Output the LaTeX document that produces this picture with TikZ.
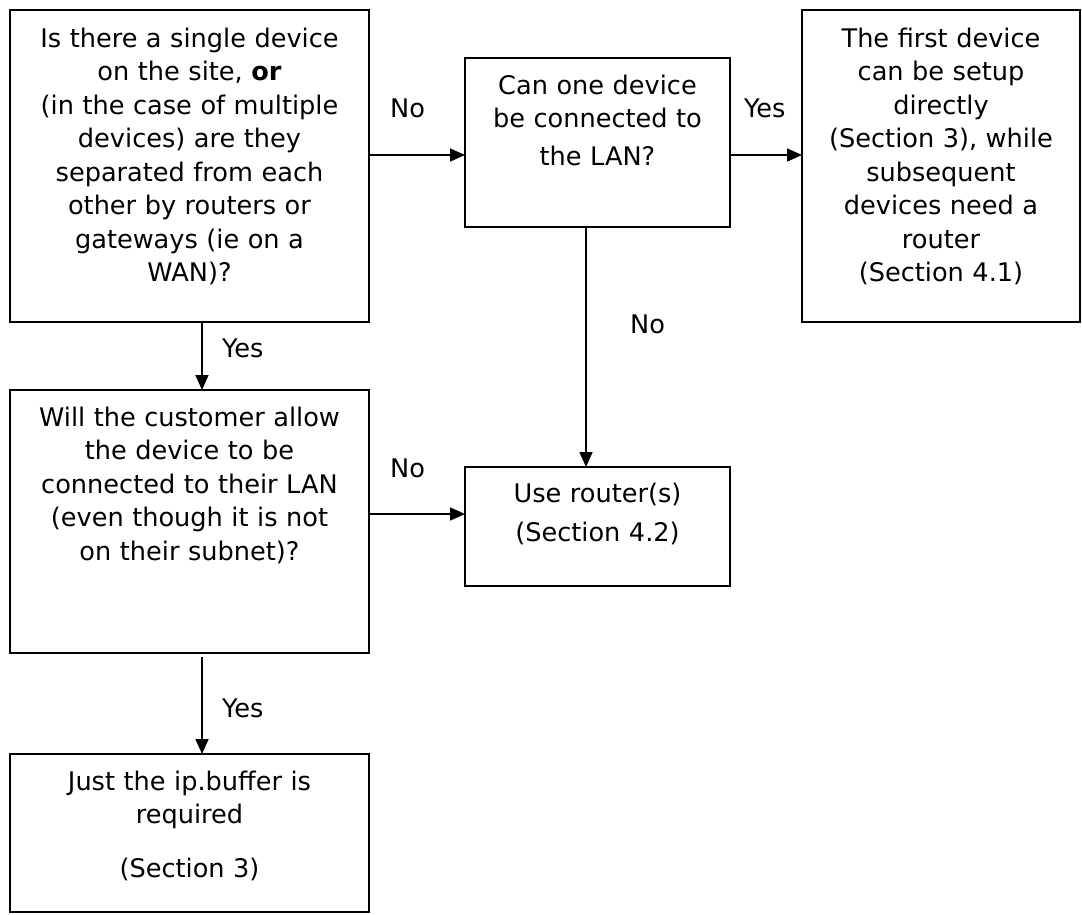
\documentclass[tikz,border=0pt]{standalone}
\usepackage{fontspec}
\setmainfont{DejaVu Sans}
\usetikzlibrary{arrows.meta}
\begin{document}
\begin{tikzpicture}[x=1pt,y=-1pt,
  box/.style={draw, line width=2pt, inner sep=0pt, outer sep=0pt, anchor=north west},
  txt/.style={anchor=base, align=center, inner sep=0pt, font=\fontsize{25.6}{33.5}\selectfont},
  lbl/.style={anchor=base west, inner sep=0pt, font=\fontsize{25.6}{33.5}\selectfont},
  arr/.style={line width=1.7pt, -{Triangle[length=15pt,width=13pt]}}]
\useasboundingbox[fill=white] (0,0) rectangle (1082,914);

\node[box, minimum width=359pt, minimum height=312pt] (b1) at (10,10) {};
\node[box, minimum width=265pt, minimum height=169pt] (b2) at (465,58) {};
\node[box, minimum width=278pt, minimum height=312pt] (b3) at (802,10) {};
\node[box, minimum width=265pt, minimum height=119pt] (b4) at (465,467) {};
\node[box, minimum width=359pt, minimum height=263pt] (b5) at (10,390) {};
\node[box, minimum width=359pt, minimum height=158pt] (b6) at (10,754) {};

\node[txt, text width=354pt] (t1) at (189.5,47) {Is there a single device\\on the site, \textbf{or}\\(in the case of multiple\\devices) are they\\separated from each\\other by routers or\\gateways (ie on a\\WAN)?};
\node[txt, text width=260pt] (t2) at (597.5,94) {Can one device\\be connected to\\[4pt]the LAN?};
\node[txt, text width=274pt] (t3) at (941,47) {The first device\\can be setup\\directly\\(Section 3), while\\subsequent\\devices need a\\router\\(Section 4.1)};
\node[txt, text width=260pt] (t4) at (597.5,502) {Use router(s)\\[5.5pt](Section 4.2)};
\node[txt, text width=354pt] (t5) at (189.5,426) {Will the customer allow\\the device to be\\connected to their LAN\\(even though it is not\\on their subnet)?};
\node[txt, text width=354pt] (t6) at (189.5,790) {Just the ip.buffer is\\required\\[20.5pt](Section 3)};

\coordinate (r1) at (0,155);
\coordinate (r2) at (0,514);
\coordinate (c1) at (202,0);
\coordinate (c2) at (586,0);

\draw[arr] (b1.east |- r1) -- (b2.west |- r1);
\draw[arr] (b2.east |- r1) -- (b3.west |- r1);
\draw[arr] (b2.south -| c2) -- (b4.north -| c2);
\draw[arr] (b1.south -| c1) -- (b5.north -| c1);
\draw[arr] (b5.east |- r2) -- (b4.west |- r2);
\draw[arr, shorten <=4pt] (b5.south -| c1) -- (b6.north -| c1);

\node[lbl] (l1) at (390,117) {No};
\node[lbl] (l2) at (744,117) {Yes};
\node[lbl] (l3) at (630,333) {No};
\node[lbl] (l4) at (222,357) {Yes};
\node[lbl] (l5) at (390,477) {No};
\node[lbl] (l6) at (222,717) {Yes};
\end{tikzpicture}
\end{document}
